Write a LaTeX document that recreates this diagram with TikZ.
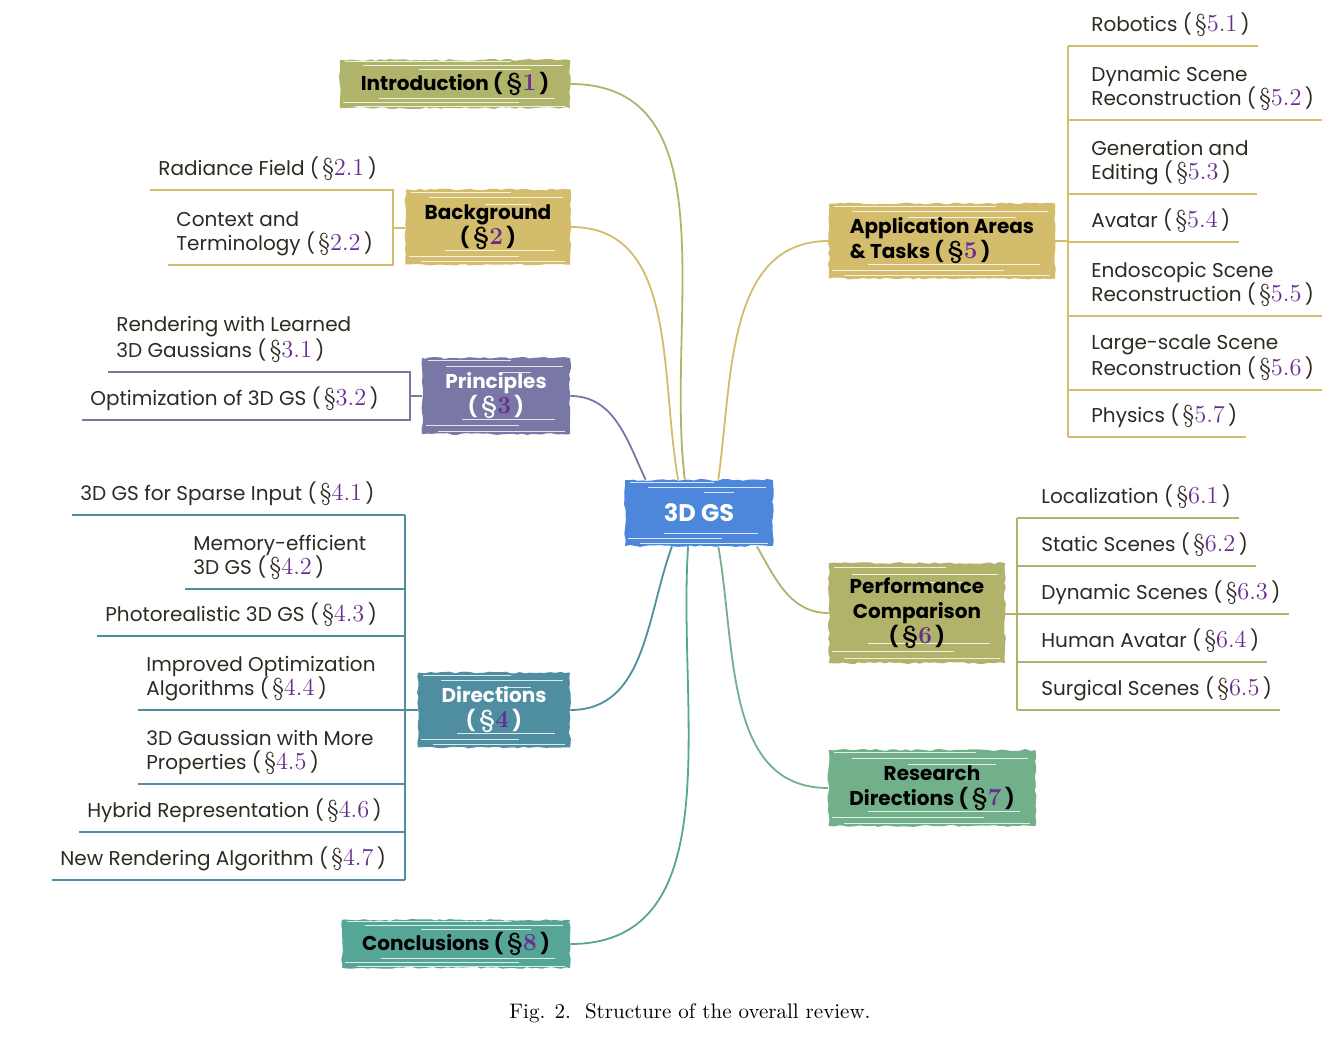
\documentclass[tikz,border=0pt]{standalone}
\usepackage{fontspec}
\setmainfont{Poppins}
\newfontfamily\secfont{Latin Modern Roman}[Scale=1.22]
\newfontfamily\capfont{Latin Modern Roman}
\usetikzlibrary{calc,decorations.pathmorphing}
\definecolor{IntroCol}{HTML}{B0B36A}
\definecolor{BgCol}{HTML}{D3BC6B}
\definecolor{PrinCol}{HTML}{7877A6}
\definecolor{DirCol}{HTML}{4F8EA0}
\definecolor{ConclCol}{HTML}{55A697}
\definecolor{GsCol}{HTML}{4D87DB}
\definecolor{AppCol}{HTML}{D3BC6B}
\definecolor{PerfCol}{HTML}{B2B36A}
\definecolor{ResCol}{HTML}{72B08B}
\definecolor{SecPurple}{HTML}{6A2C8E}
\definecolor{LeafInk}{HTML}{2E2A22}
\newcommand{\secno}[1]{(\,{\secfont\S\textcolor{SecPurple}{#1}}\,)}

\tikzset{
  streak/.style={white,line width=0.45pt,opacity=0.8},
  topic/.style={fill=#1, align=center, inner sep=2pt,
    font=\bfseries\fontsize{10}{12.5}\selectfont,
    decorate, decoration={random steps,segment length=2.5pt,amplitude=0.5pt},
    path picture={
      \foreach \f/\l/\r in {0.05/3/30,0.12/12/4,0.2/40/20,0.8/20/8,0.88/2/26,0.95/8/3}{
        \draw[streak] ($(path picture bounding box.north west)!\f!(path picture bounding box.south west)+(\l pt,0)$)
          -- ($(path picture bounding box.north east)!\f!(path picture bounding box.south east)-(\r pt,0)$);
      }}},
  link/.style={line width=0.9pt},
  bracket/.style={draw=#1, line width=0.8pt},
  leaf/.style={anchor=south west, align=left, inner xsep=4pt, inner ysep=4.5pt,
    text=LeafInk, font=\fontsize{10}{12}\selectfont}
}

\begin{document}
\begin{tikzpicture}[x=0.5pt,y=-0.5pt]
  \useasboundingbox (0,0) rectangle (1335,1038);

  % centre and main topics
  \node[topic=GsCol, text=white, minimum width=74pt, minimum height=33pt,
    font=\bfseries\fontsize{12}{14}\selectfont] (gs) at (699,513) {3D GS};
  \node[topic=IntroCol, minimum width=115pt, minimum height=24pt] (intro) at (455,84) {Introduction \secno{1}};
  \node[topic=BgCol, minimum width=82.5pt, minimum height=37.5pt] (bg) at (488,227) {Background\\\secno{2}};
  \node[topic=PrinCol, text=white, minimum width=74pt, minimum height=38pt] (prin) at (496,396) {Principles\\\secno{3}};
  \node[topic=DirCol, text=white, minimum width=76pt, minimum height=37.5pt] (dir) at (494,710) {Directions\\\secno{4}};
  \node[topic=ConclCol, minimum width=114pt, minimum height=24pt] (concl) at (456,944) {Conclusions \secno{8}};
  \node[topic=AppCol, align=left, minimum width=113pt, minimum height=37.5pt] (app) at (942,241) {Application Areas\\\& Tasks \secno{5}};
  \node[topic=PerfCol, minimum width=88pt, minimum height=50pt] (perf) at (917,613) {Performance\\Comparison\\\secno{6}};
  \node[topic=ResCol, minimum width=103.5pt, minimum height=38pt] (res) at (932,788) {Research\\Directions \secno{7}};

  % links to the centre
  \draw[link,IntroCol] (intro.east) to[out=0,in=97] (gs.113);
  \draw[link,BgCol] (bg.east) to[out=0,in=100] (gs.122);
  \draw[link,PrinCol] (prin.east) to[out=0,in=115] (gs.148);
  \draw[link,AppCol] (app.west) to[out=180,in=82] (gs.60);
  \draw[link,DirCol] (dir.east) to[out=0,in=250] (gs.231);
  \draw[link,ConclCol] (concl.east) to[out=0,in=266] (gs.252);
  \draw[link,PerfCol] (perf.west) to[out=180,in=300] (gs.330);
  \draw[link,ResCol] (res.west) to[out=180,in=280] (gs.300);

  % background leaves
  \coordinate (bgbrk) at (393,228);
  \foreach \n/\x/\y/\t in {r21/150/190/{Radiance Field \secno{2.1}},
                           r22/168/265/{Context and\\Terminology \secno{2.2}}}
    \node[leaf] (\n) at (\x,\y) {\t};
  \draw[bracket=BgCol] (r21.south west) -- (r21.south -| bgbrk) -- (r22.south -| bgbrk) -- (r22.south west);
  \draw[bracket=BgCol] (bgbrk) -- (bg.west |- bgbrk);

  % principles leaves
  \coordinate (prbrk) at (410,396);
  \foreach \n/\x/\y/\t in {r31/108/372/{Rendering with Learned\\3D Gaussians \secno{3.1}},
                           r32/82/420/{Optimization of 3D GS \secno{3.2}}}
    \node[leaf] (\n) at (\x,\y) {\t};
  \draw[bracket=PrinCol] (r31.south west) -- (r31.south -| prbrk) -- (r32.south -| prbrk) -- (r32.south west);
  \draw[bracket=PrinCol] (prbrk) -- (prin.west |- prbrk);

  % directions leaves
  \coordinate (dirbrk) at (405,710);
  \foreach \n/\x/\y/\t in {r41/72/515/{3D GS for Sparse Input \secno{4.1}},
                           r42/185/589/{Memory-efficient\\3D GS \secno{4.2}},
                           r43/97/636/{Photorealistic 3D GS \secno{4.3}},
                           r44/138/710/{Improved Optimization\\Algorithms \secno{4.4}},
                           r45/138/784/{3D Gaussian with More\\Properties \secno{4.5}},
                           r46/79/832/{Hybrid Representation \secno{4.6}},
                           r47/52/880/{New Rendering Algorithm \secno{4.7}}}{
    \node[leaf] (\n) at (\x,\y) {\t};
    \draw[bracket=DirCol] (\n.south west) -- (\n.south -| dirbrk);
  }
  \draw[bracket=DirCol] (r41.south -| dirbrk) -- (r47.south -| dirbrk);
  \draw[bracket=DirCol] (dirbrk) -- (dir.west |- dirbrk);

  % application leaves
  \coordinate (appbrk) at (1068,241);
  \foreach \n/\y/\t in {r51/46/{Robotics \secno{5.1}},
                        r52/120/{Dynamic Scene\\Reconstruction \secno{5.2}},
                        r53/194/{Generation and\\Editing \secno{5.3}},
                        r54/242/{Avatar \secno{5.4}},
                        r55/316/{Endoscopic Scene\\Reconstruction \secno{5.5}},
                        r56/390/{Large-scale Scene\\Reconstruction \secno{5.6}},
                        r57/437/{Physics \secno{5.7}}}{
    \node[leaf] (\n) at (1083,\y) {\t};
    \draw[bracket=AppCol] (\n.south -| appbrk) -- (\n.south east);
  }
  \draw[bracket=AppCol] (r51.south -| appbrk) -- (r57.south -| appbrk);
  \draw[bracket=AppCol] (app.east |- appbrk) -- (appbrk);

  % performance leaves
  \coordinate (perfbrk) at (1017,614);
  \foreach \n/\y/\t in {r61/518/{Localization \secno{6.1}},
                        r62/566/{Static Scenes \secno{6.2}},
                        r63/614/{Dynamic Scenes \secno{6.3}},
                        r64/662/{Human Avatar \secno{6.4}},
                        r65/710/{Surgical Scenes \secno{6.5}}}{
    \node[leaf] (\n) at (1033,\y) {\t};
    \draw[bracket=PerfCol] (\n.south -| perfbrk) -- (\n.south east);
  }
  \draw[bracket=PerfCol] (r61.south -| perfbrk) -- (r65.south -| perfbrk);
  \draw[bracket=PerfCol] (perf.east |- perfbrk) -- (perfbrk);

  \node[font=\capfont\fontsize{10.5}{12}\selectfont] (cap) at (690,1013) {Fig. 2.\ \ Structure of the overall review.};
\end{tikzpicture}
\end{document}
